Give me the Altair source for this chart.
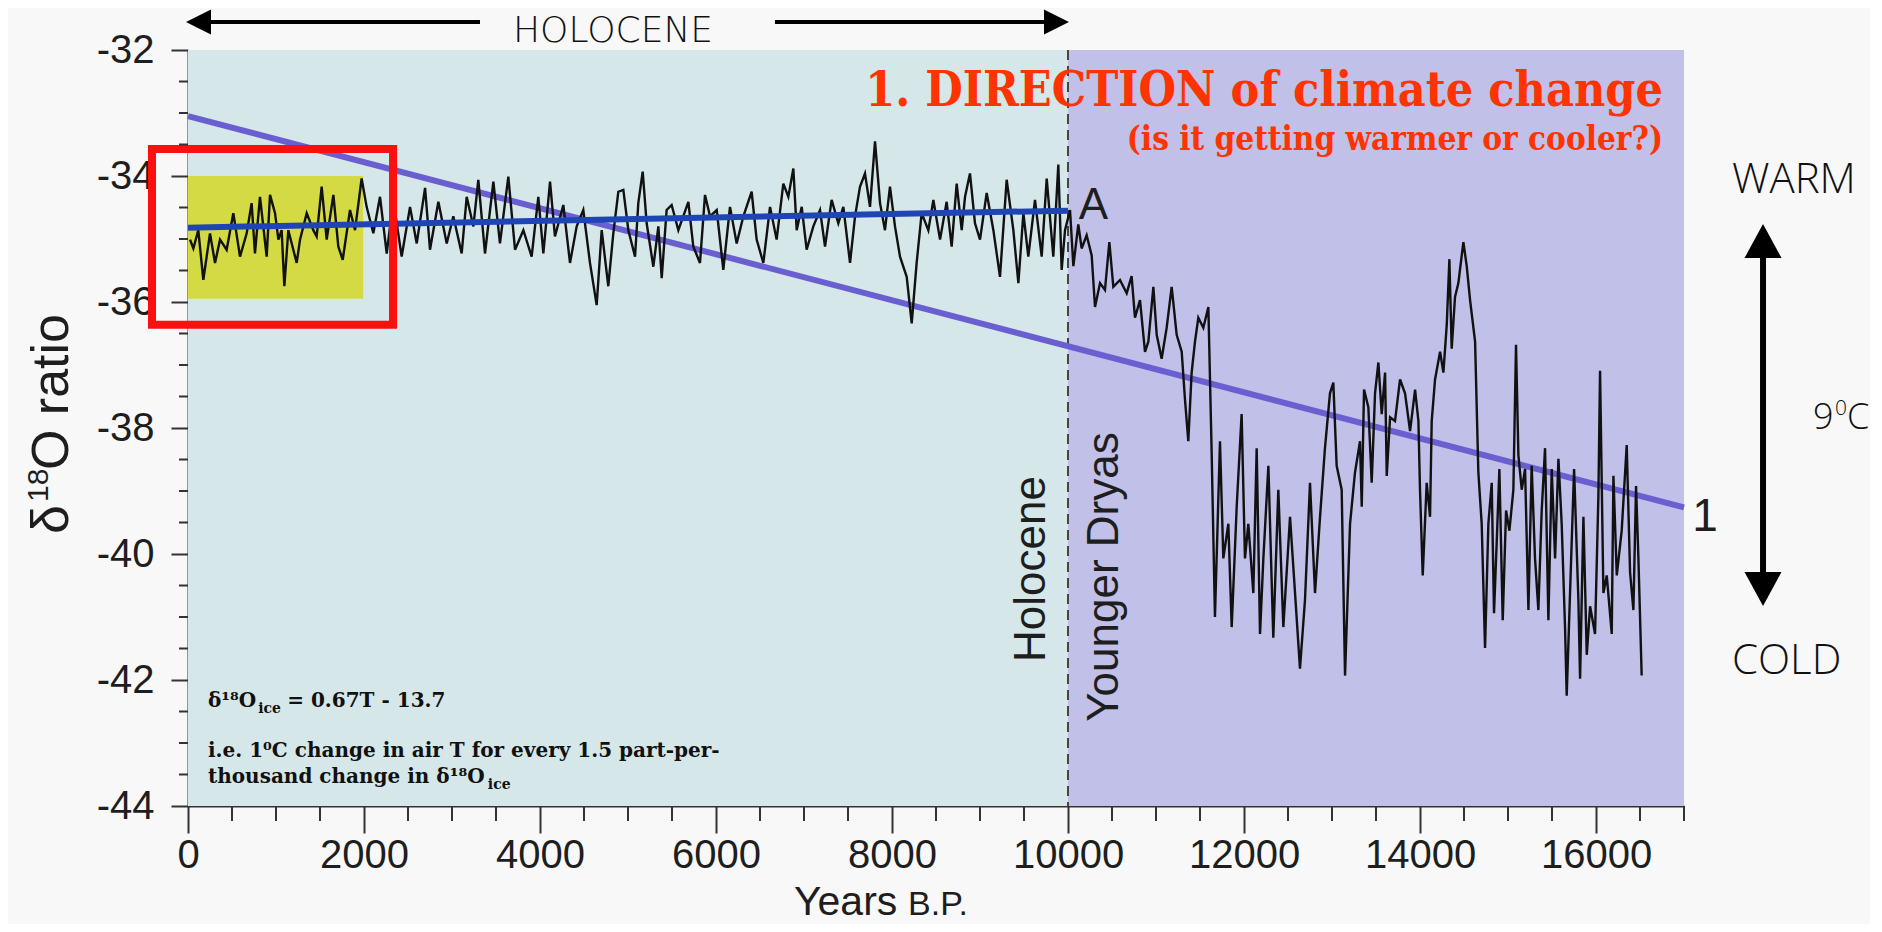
import altair as alt
import pandas as pd

# ---- data ----
YEARS = [23, 61, 117, 174, 250, 307, 364, 439, 515, 591, 667, 723, 761, 818, 894, 932, 989, 1027, 1064, 1095,
         1140, 1235, 1273, 1349, 1424, 1462, 1519, 1576, 1652, 1708, 1758, 1841, 1898, 1973, 2030, 2106, 2182,
         2258, 2333, 2428, 2523, 2599, 2694, 2750, 2845, 2940, 3015, 3110, 3167, 3243, 3299,
         3375, 3470, 3545, 3640, 3716, 3811, 3905, 3981, 4038, 4114, 4170, 4265, 4341, 4417, 4492, 4568, 4644,
         4701, 4776, 4833, 4890, 4947, 5004, 5080, 5117, 5167, 5212, 5288, 5345, 5383, 5439, 5496, 5572, 5686,
         5742, 5818, 5875, 5932, 6008, 6083, 6159, 6235, 6311, 6405, 6462, 6538, 6614,
         6689, 6765, 6822, 6879, 6917, 6974, 7030, 7106, 7182, 7239, 7314, 7390, 7447, 7523, 7580, 7636, 7693,
         7750, 7807, 7864, 7920, 7977, 8034, 8091, 8167, 8224, 8280, 8337, 8413, 8470, 8546, 8621, 8678, 8735,
         8792, 8830, 8886, 8943, 9000, 9076, 9152, 9227, 9303, 9379, 9436, 9493, 9549, 9625, 9701, 9758, 9833,
         9890, 9928, 9966, 10023,
         10061, 10117, 10155, 10212, 10269, 10307, 10364, 10420, 10470, 10515, 10591, 10667, 10723, 10761,
         10818, 10875, 10913, 10970, 11008, 11064, 11121, 11178, 11235, 11292, 11330, 11367, 11405, 11443,
         11481, 11538, 11595, 11633, 11670, 11727, 11765, 11822, 11860, 11917, 11973, 12011, 12049, 12106,
         12144, 12182, 12220, 12277, 12333, 12390, 12447, 12523, 12580, 12636, 12693, 12750, 12807, 12864,
         12920, 12977, 13015, 13053, 13110, 13148, 13205, 13261, 13318,
         13338, 13364, 13413, 13451, 13489, 13527, 13565, 13603, 13622, 13660, 13716, 13773, 13830, 13887,
         13944, 13982, 14000, 14031, 14076, 14114, 14133, 14171, 14228, 14266, 14304, 14334, 14360, 14398,
         14436, 14455, 14493, 14531, 14569, 14626, 14663, 14701, 14739, 14777, 14815, 14841, 14872, 14902,
         14940, 14978, 15016, 15061, 15091, 15118, 15156, 15194, 15232, 15269, 15307, 15345, 15383, 15421,
         15459, 15497, 15535, 15573, 15610, 15648, 15667, 15705, 15751, 15800, 15819, 15857, 15895, 15933,
         15989, 16027, 16046, 16084, 16122, 16179, 16198, 16236, 16292, 16349, 16387, 16425, 16455, 16482,
         16519]

D18O = [-35.01, -35.15, -34.86, -35.65, -34.91, -35.38, -35.01, -35.17, -34.59, -35.28, -34.91, -34.43, -35.23,
        -34.33, -35.28, -34.30, -34.59, -35.01, -34.86, -35.75, -34.86, -35.38, -35.01, -34.59, -34.86, -34.96,
        -34.17, -35.01, -34.30, -35.12, -35.33, -34.54, -34.86, -34.04, -34.49, -34.91, -34.33, -35.23, -34.38,
        -35.28, -34.49, -35.07, -34.19, -35.17, -34.41, -35.07, -34.64, -35.23, -34.33, -34.80, -34.06,
        -35.23, -34.09, -35.07, -34.01, -35.17, -34.86, -35.28, -34.33, -35.23, -34.09, -34.96, -34.46, -35.38,
        -34.80, -34.54, -35.38, -36.05, -34.86, -35.75, -34.91, -34.25, -34.22, -34.86, -35.28, -34.43, -33.93,
        -34.75, -35.44, -34.80, -35.62, -34.54, -34.46, -34.86, -34.41, -35.12, -35.38, -34.30, -34.64, -34.54,
        -35.49, -34.49, -35.07, -34.64, -34.25, -35.01, -35.38, -34.49,
        -35.01, -34.12, -34.33, -33.88, -34.86, -34.49, -35.17, -34.80, -34.54, -35.12, -34.38, -34.75, -34.49,
        -35.38, -34.64, -34.17, -33.96, -34.49, -33.45, -34.43, -34.86, -34.17, -34.80, -35.28, -35.60, -36.34,
        -35.38, -34.59, -34.86, -34.38, -35.01, -34.41, -35.12, -34.12, -34.86, -34.33, -33.96, -34.75, -35.01,
        -34.27, -34.86, -35.60, -34.06, -34.86, -35.70, -34.59, -35.28, -34.38, -35.28, -34.04, -35.28, -33.82,
        -35.49, -34.86, -34.54,
        -35.43, -34.77, -35.15, -34.94, -35.26, -36.08, -35.70, -35.81, -35.05, -35.76, -35.65, -35.86, -35.59,
        -36.25, -35.97, -36.79, -36.63, -35.76, -36.52, -36.90, -36.41, -35.76, -36.52, -36.79, -37.56, -38.21,
        -37.12, -36.63, -36.25, -36.41, -36.08, -38.43, -41.00, -38.21, -40.07, -39.52, -41.16, -39.25, -37.78,
        -40.07, -39.52, -40.62, -38.32, -41.27, -40.07, -38.60, -41.33, -38.98, -41.16, -39.41, -40.62, -41.82,
        -40.73, -38.87, -40.62, -39.41, -38.32, -37.45, -37.28, -38.60, -38.98, -41.93, -39.52, -38.71, -38.21,
        -39.25, -37.39, -37.67, -38.87, -37.45, -36.96, -37.78, -37.12, -38.76, -37.83, -37.89, -37.23, -37.45,
        -38.05, -37.39, -37.89, -38.98, -40.34, -38.87, -39.41, -37.89, -37.23, -36.79, -37.12, -36.36, -35.32,
        -36.74, -35.92, -35.70, -35.48, -35.05, -35.43, -35.97, -36.63, -38.70, -39.52, -41.49, -39.52, -38.87,
        -40.94, -39.80, -38.65, -41.05, -39.31, -39.63, -38.98, -36.68, -38.43, -38.98, -38.65, -40.89, -38.60,
        -40.07, -40.89, -39.31, -38.32, -41.05, -38.65, -40.07, -38.49, -39.52, -41.16, -42.25, -40.62, -38.65,
        -40.73, -41.98, -39.41, -41.60, -40.83, -41.27, -39.09, -37.09, -40.62, -40.34, -41.27, -38.76, -40.34,
        -39.63, -38.27, -40.29, -40.89, -38.92, -40.07, -41.93]

HOLO_TREND_X = [0, 10000]
HOLO_TREND_Y = [-34.82, -34.55]
LONG_TREND_X = [0, 17000]
LONG_TREND_Y = [-33.05, -39.26]

PERIOD_START = [0, 10000]
PERIOD_END = [10000, 17000]
PERIOD_COLOR = ["#d6e7e9", "#c1c0e8"]

X_TICKS = [0, 2000, 4000, 6000, 8000, 10000, 12000, 14000, 16000]
Y_TICKS = [-44, -42, -40, -38, -36, -34, -32]
X_MINOR = [v for v in range(500, 17001, 500) if v % 2000]
Y_MINOR = [v / 2 for v in range(-87, -63) if v % 4]

W, H = 1496, 756
xs = alt.Scale(domain=[0, 17000], nice=False, zero=False)
ys = alt.Scale(domain=[-44, -32], nice=False, zero=False)

SANS = "Liberation Sans"
THIN = "Open Sans"
SERIF_EQ = "DejaVu Serif"
SERIF_T = "DejaVu Serif Condensed, Liberation Serif"

XAX = alt.Axis(values=X_TICKS, title=None, format="d", tickSize=27, tickWidth=2, tickColor="#333333",
               domainColor="#333333", domainWidth=2, labelFont=SANS, labelFontSize=40, labelColor="#1e1e1e",
               labelPadding=2, labelFlush=False, labelOverlap=False, grid=False)
YAX = alt.Axis(values=Y_TICKS, title=None, tickSize=17, tickWidth=2, tickColor="#333333",
               domainColor="#333333", domainWidth=2, labelFont=SANS, labelFontSize=40, labelColor="#1e1e1e",
               labelPadding=17, labelFlush=False, labelOverlap=False,
               labelExpr="'-' + abs(datum.value)", grid=False)


def X(f="x"):
    return alt.X(f"{f}:Q", scale=xs, axis=XAX)


def Y(f="y"):
    return alt.Y(f"{f}:Q", scale=ys, axis=YAX)


def one(**kw):
    return pd.DataFrame({k: [v] for k, v in kw.items()})


layers = []

# background periods
layers.append(
    alt.Chart(pd.DataFrame({"x": PERIOD_START, "x2": PERIOD_END, "c": PERIOD_COLOR}))
    .mark_rect()
    .encode(x=X("x"), x2="x2:Q", y=alt.value(0), y2=alt.value(H), color=alt.Color("c:N", scale=None))
)

# yellow box (modern period)
layers.append(
    alt.Chart(one(x=0, x2=1990, y=-34.0, y2=-35.95))
    .mark_rect(color="#d3da44")
    .encode(x=X("x"), x2="x2:Q", y=Y("y"), y2="y2:Q")
)

# dashed boundary
layers.append(
    alt.Chart(one(x=10000))
    .mark_rule(color="#444444", strokeWidth=2, strokeDash=[10, 6])
    .encode(x=X("x"), y=alt.value(0), y2=alt.value(H))
)

# long trend
layers.append(
    alt.Chart(pd.DataFrame({"x": LONG_TREND_X, "y": LONG_TREND_Y}))
    .mark_line(color="#6a5fd0", strokeWidth=6)
    .encode(x=X("x"), y=Y("y"))
)

# data line
layers.append(
    alt.Chart(pd.DataFrame({"x": YEARS, "y": D18O}))
    .mark_line(color="#111111", strokeWidth=2.4)
    .encode(x=X("x"), y=Y("y"))
)

# holocene trend
layers.append(
    alt.Chart(pd.DataFrame({"x": HOLO_TREND_X, "y": HOLO_TREND_Y}))
    .mark_line(color="#1f44b3", strokeWidth=6)
    .encode(x=X("x"), y=Y("y"))
)

# red highlight box
layers.append(
    alt.Chart(one(x=-409, x2=2330, y=-33.57, y2=-36.36))
    .mark_rect(filled=False, stroke="#fb0f0f", strokeWidth=8)
    .encode(x=X("x"), x2="x2:Q", y=Y("y"), y2="y2:Q")
)

# minor ticks
layers.append(
    alt.Chart(pd.DataFrame({"x": X_MINOR}))
    .mark_rule(color="#333333", strokeWidth=2)
    .encode(x=X("x"), y=alt.value(H), y2=alt.value(H + 15))
)
layers.append(
    alt.Chart(pd.DataFrame({"y": Y_MINOR}))
    .mark_rule(color="#333333", strokeWidth=2)
    .encode(y=Y("y"), x=alt.value(-9), x2=alt.value(0))
)


def text(x, y, t, **kw):
    return alt.Chart(one(x=x, y=y, t=t)).mark_text(**kw).encode(x=X("x"), y=Y("y"), text="t:N")


# HOLOCENE arrows
layers.append(
    alt.Chart(pd.DataFrame({"x": [119, 6670], "x2": [3318, 9869], "y": [-31.556, -31.556]}))
    .mark_rule(color="black", strokeWidth=4)
    .encode(x=X("x"), x2="x2:Q", y=Y("y"))
)
layers.append(
    alt.Chart(one(x=119, y=-31.556)).mark_point(shape="M-1,0L1,-1L1,1Z", filled=True, size=625,
                                                 color="black", opacity=1).encode(x=X("x"), y=Y("y"))
)
layers.append(
    alt.Chart(one(x=9869, y=-31.556)).mark_point(shape="M1,0L-1,-1L-1,1Z", filled=True, size=625,
                                                  color="black", opacity=1).encode(x=X("x"), y=Y("y"))
)
layers.append(text(4830, -31.873, "HOLOCENE", font="DejaVu Sans", fontSize=36, fontWeight=200,
                   align="center", baseline="alphabetic", color="#111111"))

# WARM / COLD arrow
layers.append(
    alt.Chart(one(x=17898, y=-35.032, y2=-40.556))
    .mark_rule(color="black", strokeWidth=6)
    .encode(x=X("x"), y=Y("y"), y2="y2:Q")
)
layers.append(
    alt.Chart(one(x=17898, y=-35.032)).mark_point(shape="M0,-0.92L1,0.92L-1,0.92Z", filled=True, size=1369,
                                                   color="black", opacity=1).encode(x=X("x"), y=Y("y"))
)
layers.append(
    alt.Chart(one(x=17898, y=-40.556)).mark_point(shape="M0,0.92L1,-0.92L-1,-0.92Z", filled=True, size=1369,
                                                   color="black", opacity=1).encode(x=X("x"), y=Y("y"))
)
layers.append(text(17545, -34.27, "WARM", font=THIN, fontSize=42, fontWeight=300, align="left",
                   baseline="alphabetic", color="#111111"))
layers.append(text(17545, -41.905, "COLD", font=THIN, fontSize=42, fontWeight=300, align="left",
                   baseline="alphabetic", color="#111111"))
layers.append(text(18466, -38.016, "9", font=THIN, fontSize=36, fontWeight=300, align="left",
                   baseline="alphabetic", color="#111111"))
layers.append(text(18716, -37.794, "0", font=THIN, fontSize=21, fontWeight=300, align="left",
                   baseline="alphabetic", color="#111111"))
layers.append(text(18852, -38.016, "C", font=THIN, fontSize=36, fontWeight=300, align="left",
                   baseline="alphabetic", color="#111111"))

# red headline
layers.append(text(16761, -32.889, "1. DIRECTION of climate change", font=SERIF_T, fontSize=48,
                   fontWeight="bold", align="right", baseline="alphabetic", color="#ff3300"))
layers.append(text(16761, -33.587, "(is it getting warmer or cooler?)", font=SERIF_T, fontSize=33,
                   fontWeight="bold", align="right", baseline="alphabetic", color="#ff3300"))

# labels in the plot
layers.append(text(10290, -34.476, "A", font=SANS, fontSize=44, align="center", baseline="middle",
                   color="#1e1e1e"))
layers.append(text(17239, -39.413, "1", font=SANS, fontSize=46, align="center", baseline="middle",
                   color="#1e1e1e"))
layers.append(text(9591, -40.238, "Holocene", font=SANS, fontSize=44, align="center", baseline="middle",
                   angle=270, color="#1e1e1e"))
layers.append(text(10420, -40.365, "Younger Dryas", font=SANS, fontSize=44, align="center",
                   baseline="middle", angle=270, color="#1e1e1e"))

# equation block
EQ = dict(font=SERIF_EQ, fontWeight="bold", align="left", baseline="alphabetic", color="#111111")
EQ_X0 = 227  # year of the left edge of the block
layers.append(text(EQ_X0, -42.429, "δ¹⁸O", fontSize=20, **EQ))
layers.append(text(EQ_X0 + 570, -42.524, "ice", fontSize=14, **EQ))
layers.append(text(EQ_X0 + 900, -42.429, "= 0.67T - 13.7", fontSize=20, **EQ))
layers.append(text(EQ_X0, -43.222, "i.e. 1⁰C change in air T for every 1.5 part-per-", fontSize=20, **EQ))
layers.append(text(EQ_X0, -43.635, "thousand change in δ¹⁸O", fontSize=20, **EQ))
layers.append(text(EQ_X0 + 3180, -43.730, "ice", fontSize=14, **EQ))

# y axis title (rotated, with raised 18)
layers.append(text(-1364, -39.683, "δ", font=SANS, fontSize=52, align="left", baseline="alphabetic",
                   angle=270, color="#1e1e1e"))
layers.append(text(-1591, -39.175, "18", font=SANS, fontSize=30, align="left", baseline="alphabetic",
                   angle=270, color="#1e1e1e"))
layers.append(text(-1364, -38.667, "O ratio", font=SANS, fontSize=52, align="left", baseline="alphabetic",
                   angle=270, color="#1e1e1e"))

# x axis title
layers.append(text(6886, -45.730, "Years", font=SANS, fontSize=41, align="left", baseline="alphabetic",
                   color="#1e1e1e"))
layers.append(text(8182, -45.730, "B.P.", font=SANS, fontSize=34, align="left", baseline="alphabetic",
                   color="#1e1e1e"))

chart = (
    alt.layer(*layers)
    .properties(
        width=W, height=H,
        padding={"left": 180, "top": 42, "right": 186, "bottom": 118},
        autosize=alt.AutoSizeParams(type="none"),
        background="#f8f8f8",
    )
    .configure_view(stroke=None)
)

chart.save("out.html", embed_options={"renderer": "svg", "actions": False})
